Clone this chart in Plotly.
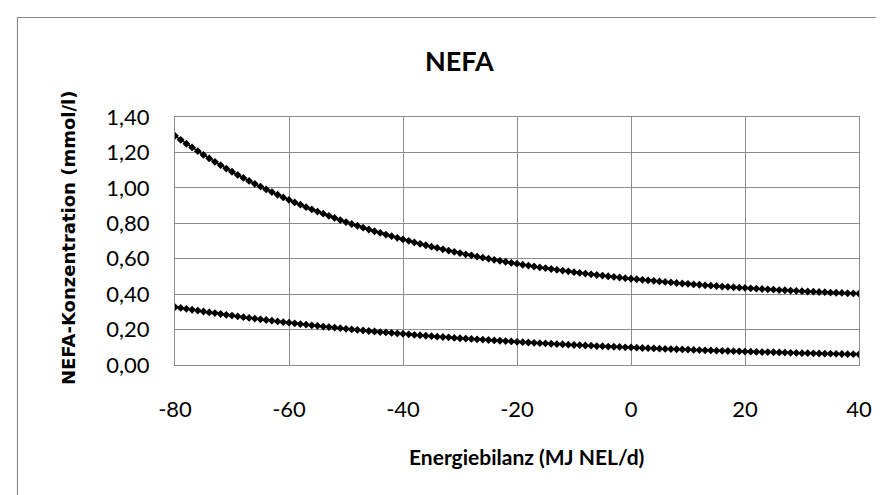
import plotly.graph_objects as go

energiebilanz = list(range(-80, 41))

nefa_upper = [
    1.294, 1.271, 1.249, 1.228, 1.207, 1.186, 1.166, 1.147, 1.128, 1.109,
    1.091, 1.073, 1.056, 1.039, 1.023, 1.007, 0.991, 0.976, 0.961, 0.946,
    0.932, 0.918, 0.905, 0.891, 0.878, 0.866, 0.854, 0.842, 0.830, 0.818,
    0.807, 0.796, 0.786, 0.775, 0.765, 0.755, 0.746, 0.736, 0.727, 0.718,
    0.709, 0.701, 0.692, 0.684, 0.676, 0.668, 0.661, 0.653, 0.646, 0.639,
    0.632, 0.625, 0.619, 0.612, 0.606, 0.600, 0.594, 0.588, 0.583, 0.577,
    0.572, 0.566, 0.561, 0.556, 0.551, 0.547, 0.542, 0.537, 0.533, 0.529,
    0.524, 0.520, 0.516, 0.512, 0.508, 0.505, 0.501, 0.497, 0.494, 0.490,
    0.487, 0.484, 0.481, 0.478, 0.475, 0.472, 0.469, 0.466, 0.463, 0.460,
    0.458, 0.455, 0.453, 0.450, 0.448, 0.446, 0.443, 0.441, 0.439, 0.437,
    0.435, 0.433, 0.431, 0.429, 0.427, 0.425, 0.423, 0.422, 0.420, 0.418,
    0.417, 0.415, 0.414, 0.412, 0.411, 0.409, 0.408, 0.407, 0.405, 0.404,
    0.403,
]

nefa_lower = [
    0.327, 0.322, 0.317, 0.312, 0.307, 0.302, 0.297, 0.293, 0.288, 0.283,
    0.279, 0.275, 0.270, 0.266, 0.262, 0.258, 0.254, 0.250, 0.246, 0.242,
    0.239, 0.235, 0.231, 0.228, 0.224, 0.221, 0.217, 0.214, 0.211, 0.208,
    0.204, 0.201, 0.198, 0.195, 0.192, 0.189, 0.186, 0.184, 0.181, 0.178,
    0.176, 0.173, 0.170, 0.168, 0.165, 0.163, 0.160, 0.158, 0.156, 0.153,
    0.151, 0.149, 0.147, 0.145, 0.143, 0.141, 0.139, 0.137, 0.135, 0.133,
    0.131, 0.129, 0.127, 0.125, 0.123, 0.122, 0.120, 0.118, 0.117, 0.115,
    0.113, 0.112, 0.110, 0.109, 0.107, 0.106, 0.104, 0.103, 0.102, 0.100,
    0.099, 0.098, 0.096, 0.095, 0.094, 0.092, 0.091, 0.090, 0.089, 0.088,
    0.087, 0.085, 0.084, 0.083, 0.082, 0.081, 0.080, 0.079, 0.078, 0.077,
    0.076, 0.075, 0.074, 0.073, 0.073, 0.072, 0.071, 0.070, 0.069, 0.068,
    0.067, 0.067, 0.066, 0.065, 0.064, 0.064, 0.063, 0.062, 0.061, 0.061,
    0.060,
]

x_ticks = [-80, -60, -40, -20, 0, 20, 40]
x_ticklabels = ["-80", "-60", "-40", "-20", "0", "20", "40"]
y_ticks = [0.0, 0.2, 0.4, 0.6, 0.8, 1.0, 1.2, 1.4]
y_ticklabels = ["0,00", "0,20", "0,40", "0,60", "0,80", "1,00", "1,20", "1,40"]

chart_title = "NEFA"
x_title = "Energiebilanz (MJ NEL/d)"
y_title = "NEFA-Konzentration (mmol/l)"

W, H = 884, 495
L, R, T, B = 167, 851, 109, 357  # plot area pixels


def px(xp):
    return (xp - L) / (R - L)


def py(yp):
    return (B - yp) / (B - T)


GRID = "#8c8c8c"
TICKFONT = dict(family="Lato, Open Sans, sans-serif", size=22, color="#000000")

fig = go.Figure()
for series in (nefa_upper, nefa_lower):
    fig.add_trace(go.Scatter(
        x=energiebilanz, y=series, mode="lines+markers",
        line=dict(color="#000000", width=1.5),
        marker=dict(symbol="diamond", size=6, color="#000000"),
        showlegend=False, hoverinfo="x+y",
    ))

fig.update_layout(
    width=W, height=H,
    margin=dict(l=L, r=W - R, t=T, b=H - B, pad=0),
    paper_bgcolor="#ffffff", plot_bgcolor="#ffffff",
    showlegend=False,
    xaxis=dict(
        range=[-80, 40], tickvals=x_ticks, ticktext=x_ticklabels,
        showgrid=True, gridcolor=GRID, gridwidth=1.3,
        showline=True, linecolor=GRID, linewidth=1.3, mirror=True,
        zeroline=False, ticks="", tickfont=TICKFONT,
        ticklabelstandoff=24,
    ),
    yaxis=dict(
        range=[0, 1.4], tickvals=y_ticks, ticktext=y_ticklabels,
        showgrid=True, gridcolor=GRID, gridwidth=1.3,
        showline=True, linecolor=GRID, linewidth=1.3, mirror=True,
        zeroline=False, ticks="", tickfont=TICKFONT,
        ticklabelstandoff=20,
    ),
    shapes=[
        dict(type="rect", xref="paper", yref="paper",
             x0=px(9.5), x1=px(890), y0=py(500), y1=py(9.5),
             line=dict(color="#8c8c8c", width=1.2), fillcolor="rgba(0,0,0,0)",
             layer="below"),
    ],
    annotations=[
        dict(text="<b>" + chart_title + "</b>", xref="paper", yref="paper",
             x=px(451), y=py(53), xanchor="center", yanchor="middle",
             showarrow=False,
             font=dict(family="Lato, Open Sans, sans-serif", size=27, color="#000000")),
        dict(text="<b>" + x_title + "</b>", xref="paper", yref="paper",
             x=px(518), y=py(448), xanchor="center", yanchor="middle",
             showarrow=False,
             font=dict(family="Lato, Open Sans, sans-serif", size=21, color="#000000")),
        dict(text="<b>" + y_title + "</b>", xref="paper", yref="paper",
             x=px(60), y=py(230), xanchor="center", yanchor="middle",
             textangle=-90, showarrow=False,
             font=dict(family="DejaVu Sans, Verdana, sans-serif", size=18, color="#000000")),
    ],
)

fig.write_html("out.html")
